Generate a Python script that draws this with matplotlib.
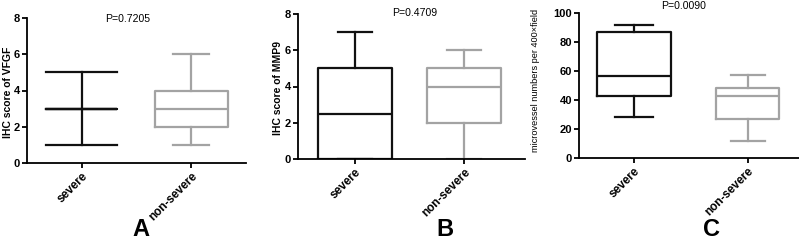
import matplotlib
matplotlib.use('Agg')
import matplotlib.pyplot as plt

plt.rcParams['font.family'] = ['Liberation Sans', 'DejaVu Sans']

groups = ['severe', 'non-severe']
colors = ['#111111', '#a3a3a3']

# panel A: VFGF
A_lo = [1, 1]
A_q1 = [3, 2]
A_med = [3, 3]
A_q3 = [3, 4]
A_hi = [5, 6]

# panel B: MMP9
B_lo = [0, 0]
B_q1 = [0, 2]
B_med = [2.5, 4]
B_q3 = [5, 5]
B_hi = [7, 6]

# panel C: microvessel density
C_lo = [28, 11.5]
C_q1 = [43, 27]
C_med = [56.5, 43]
C_q3 = [87, 48.3]
C_hi = [92, 57]

p_texts = ['P=0.7205', 'P=0.4709', 'P=0.0090']
ylabels = ['IHC score of VFGF', 'IHC score of MMP9',
           'microvessel numbers per 400\u00d7field']
letters = ['A', 'B', 'C']

W, H = 799, 241
fig = plt.figure(figsize=(W / 100, H / 100), dpi=100)


def px_axes(x0, x1, ytop, ybot):
    return fig.add_axes([x0 / W, 1 - ybot / H, (x1 - x0) / W, (ybot - ytop) / H])


def draw(ax, lo, q1, med, q3, hi, widths, capw, xlim, ylim, yticks):
    for i in range(2):
        st = [dict(whislo=lo[i], q1=q1[i], med=med[i], q3=q3[i], whishi=hi[i], fliers=[])]
        c = colors[i]
        ax.bxp(st, positions=[i + 1], widths=widths[i], capwidths=capw[i],
               showfliers=False, manage_ticks=False,
               boxprops=dict(color=c, lw=1.6),
               whiskerprops=dict(color=c, lw=1.6),
               capprops=dict(color=c, lw=1.6),
               medianprops=dict(color=c, lw=1.6))
    ax.set_xlim(*xlim)
    ax.set_ylim(*ylim)
    ax.set_yticks(yticks)
    ax.set_xticks([1, 2])
    ax.set_xticklabels(groups, rotation=45, ha='right', rotation_mode='anchor',
                       fontsize=8.5, fontweight='bold')
    for lab in ax.get_yticklabels():
        lab.set_fontweight('bold')
        lab.set_fontsize(8)
    for s in ['top', 'right']:
        ax.spines[s].set_visible(False)
    for s in ['left', 'bottom']:
        ax.spines[s].set_linewidth(1.3)
    ax.tick_params(width=1.3, length=3.5, pad=1.5)
    ax.patch.set_alpha(0)


axA = px_axes(27, 246, 18, 163)
draw(axA, A_lo, A_q1, A_med, A_q3, A_hi, [0.65, 0.67], [0.65, 0.33],
     (0.5, 2.5), (0, 8), [0, 2, 4, 6, 8])
axB = px_axes(298, 525, 14, 159)
draw(axB, B_lo, B_q1, B_med, B_q3, B_hi, [0.68, 0.68], [0.32, 0.32],
     (0.477, 2.56), (0, 8), [0, 2, 4, 6, 8])
axC = px_axes(579, 799, 13, 158)
draw(axC, C_lo, C_q1, C_med, C_q3, C_hi, [0.65, 0.55], [0.33, 0.3],
     (0.52, 2.45), (0, 100), [0, 20, 40, 60, 80, 100])

# y labels
fig.text(8 / W, 1 - 92 / H, ylabels[0], rotation=90, ha='center', va='center',
         fontsize=7.5, fontweight='bold')
fig.text(278 / W, 1 - 88 / H, ylabels[1], rotation=90, ha='center', va='center',
         fontsize=7.5, fontweight='bold')
fig.text(536 / W, 1 - 80 / H, ylabels[2], rotation=90, ha='center', va='center',
         fontsize=6.6, fontweight='medium')

# p values
fig.text(128 / W, 1 - 19 / H, p_texts[0], ha='center', va='center', fontsize=7.6)
fig.text(415 / W, 1 - 13.5 / H, p_texts[1], ha='center', va='center', fontsize=7.6)
fig.text(684 / W, 1 - 6 / H, p_texts[2], ha='center', va='center', fontsize=7.6)

# panel letters
for x, t in zip([141, 445, 712], letters):
    fig.text(x / W, 1 - 230 / H, t, ha='center', va='center', fontsize=17,
             fontweight='bold')

fig.savefig('out.png', dpi=100)
